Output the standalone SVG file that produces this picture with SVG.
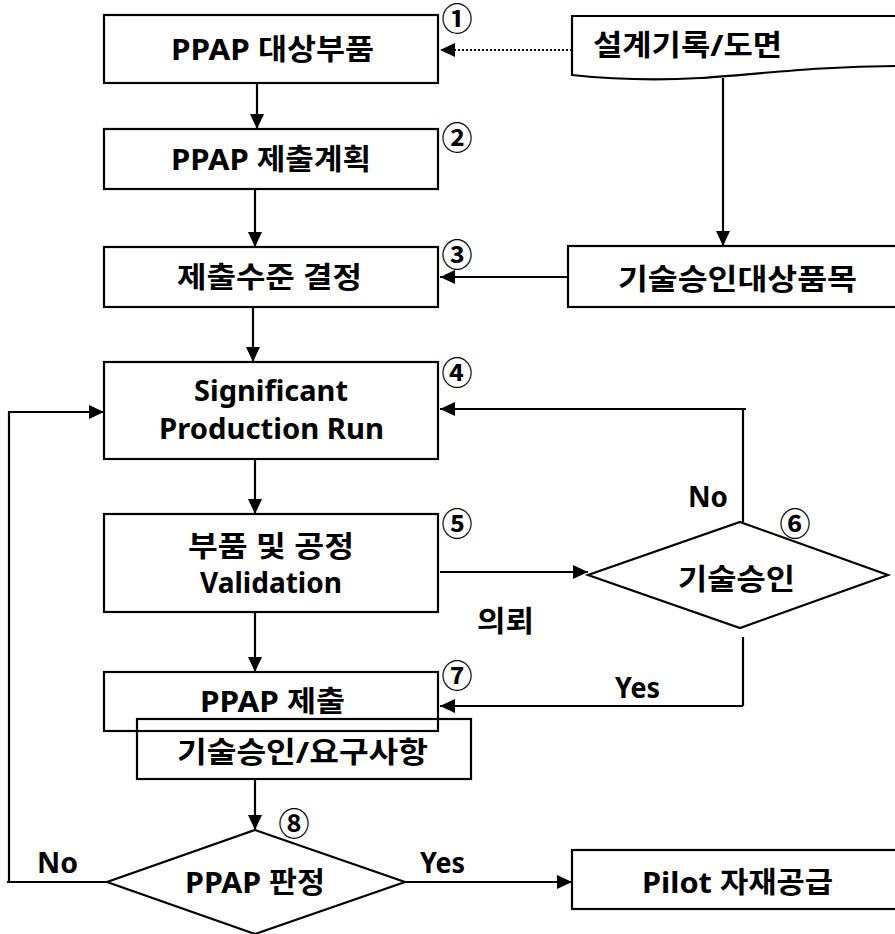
<svg xmlns="http://www.w3.org/2000/svg" width="895" height="934" viewBox="0 0 895 934">
<defs>
<marker id="ah" markerUnits="userSpaceOnUse" markerWidth="16" markerHeight="14" refX="15" refY="7" orient="auto">
<path d="M0,0 L15,7 L0,14 Z" fill="#000"/>
</marker>
<style>
.box{fill:none;stroke:#000;stroke-width:2.2}
.bg{fill:#fff;stroke:#000;stroke-width:2.2}
.ln{fill:none;stroke:#000;stroke-width:2.2}
.arr{fill:none;stroke:#000;stroke-width:2.2;marker-end:url(#ah)}
.dot{fill:none;stroke:#000;stroke-width:2;stroke-dasharray:2,2;marker-end:url(#ah)}
.t{font-family:"Noto Sans","Noto Sans CJK KR",sans-serif;font-weight:bold;font-size:29px;text-anchor:middle;fill:#000}
.tl{font-family:"Noto Sans","Noto Sans CJK KR",sans-serif;font-weight:bold;font-size:29px;text-anchor:start;fill:#000}
.n{font-family:"Noto Sans CJK KR",sans-serif;font-weight:bold;font-size:31px;text-anchor:middle;fill:#000}
</style>
</defs>
<rect width="895" height="934" fill="#fff"/>

<g id="connectors">
<line class="dot" x1="572" y1="50" x2="440" y2="50"/>
<line class="arr" x1="257" y1="83" x2="257" y2="129"/>
<line class="arr" x1="255" y1="189" x2="255" y2="247"/>
<line class="arr" x1="723" y1="78" x2="723" y2="246"/>
<line class="arr" x1="568" y1="277" x2="440" y2="277"/>
<line class="arr" x1="253" y1="307" x2="253" y2="362"/>
<line class="arr" x1="255" y1="459" x2="255" y2="514"/>
<polyline class="ln" points="743,522 743,409"/>
<line class="arr" x1="746" y1="409" x2="440" y2="409"/>
<line class="arr" x1="440" y1="572" x2="588" y2="572"/>
<line class="arr" x1="255" y1="612" x2="255" y2="672"/>
<polyline class="ln" points="743,637 743,706"/>
<line class="arr" x1="743" y1="706" x2="440" y2="706"/>
<line class="arr" x1="255" y1="779" x2="255" y2="830"/>
<polyline class="ln" points="107,882 7,882"/>
<polyline class="ln" points="9,882 9,412"/>
<line class="arr" x1="8" y1="412" x2="104" y2="412"/>
<line class="arr" x1="405" y1="882" x2="572" y2="882"/>
<text class="tl" x="688" y="507" textLength="40" lengthAdjust="spacingAndGlyphs">No</text>
<text class="tl" x="615" y="698" textLength="45" lengthAdjust="spacingAndGlyphs">Yes</text>
<text class="tl" x="477" y="632" textLength="57" lengthAdjust="spacingAndGlyphs">의뢰</text>
<text class="tl" x="37" y="873" textLength="41" lengthAdjust="spacingAndGlyphs">No</text>
<text class="tl" x="420" y="873" textLength="45" lengthAdjust="spacingAndGlyphs">Yes</text>
</g>

<g id="n1">
<rect class="bg" x="104" y="15" width="334" height="68"/>
<text class="tl" x="171" y="60" textLength="203" lengthAdjust="spacingAndGlyphs">PPAP 대상부품</text>
<text class="n" x="457" y="30">①</text>
</g>
<g id="doc">
<path class="bg" d="M572,16 L900,16 L900,66 C820,66 760,74 700,78 C650,81 600,78 572,75 Z"/>
<text class="tl" x="593" y="56" textLength="189" lengthAdjust="spacingAndGlyphs">설계기록/도면</text>
</g>
<g id="n2">
<rect class="bg" x="104" y="129" width="334" height="60"/>
<text class="tl" x="171" y="170" textLength="200" lengthAdjust="spacingAndGlyphs">PPAP 제출계획</text>
<text class="n" x="457" y="149">②</text>
</g>
<g id="n3">
<rect class="bg" x="104" y="247" width="334" height="60"/>
<text class="tl" x="177" y="288" textLength="185" lengthAdjust="spacingAndGlyphs">제출수준 결정</text>
<text class="n" x="457" y="266">③</text>
</g>
<g id="tech">
<rect class="bg" x="568" y="246" width="340" height="61"/>
<text class="tl" x="618" y="290" textLength="239" lengthAdjust="spacingAndGlyphs">기술승인대상품목</text>
</g>
<g id="n4">
<rect class="bg" x="104" y="362" width="334" height="97"/>
<text class="tl" x="194" y="401" textLength="154" lengthAdjust="spacingAndGlyphs">Significant</text>
<text class="tl" x="159" y="439" textLength="225" lengthAdjust="spacingAndGlyphs">Production Run</text>
<text class="n" x="457" y="384">④</text>
</g>
<g id="n5">
<rect class="bg" x="104" y="514" width="334" height="98"/>
<text class="tl" x="188" y="557" textLength="166" lengthAdjust="spacingAndGlyphs">부품 및 공정</text>
<text class="tl" x="200" y="593" textLength="142" lengthAdjust="spacingAndGlyphs">Validation</text>
<text class="n" x="457" y="535">⑤</text>
</g>
<g id="n6">
<polygon class="bg" points="740,522 888,575 740,628 588,575"/>
<text class="tl" x="678" y="590" textLength="117" lengthAdjust="spacingAndGlyphs">기술승인</text>
<text class="n" x="795" y="535">⑥</text>
</g>
<g id="n7">
<rect class="box" x="104" y="672" width="334" height="59"/>
<rect class="box" x="137" y="719" width="334" height="60"/>
<text class="tl" x="200" y="712" textLength="145" lengthAdjust="spacingAndGlyphs">PPAP 제출</text>
<text class="tl" x="177" y="763" textLength="251" lengthAdjust="spacingAndGlyphs">기술승인/요구사항</text>
<text class="n" x="457" y="687">⑦</text>
</g>
<g id="n8">
<polygon class="bg" points="255,830 405,882 255,934 107,882"/>
<text class="tl" x="185" y="893" textLength="140" lengthAdjust="spacingAndGlyphs">PPAP 판정</text>
<text class="n" x="294" y="835">⑧</text>
</g>
<g id="pilot">
<rect class="bg" x="572" y="850" width="340" height="59"/>
<text class="tl" x="642" y="893" textLength="191" lengthAdjust="spacingAndGlyphs">Pilot 자재공급</text>
</g>
</svg>
